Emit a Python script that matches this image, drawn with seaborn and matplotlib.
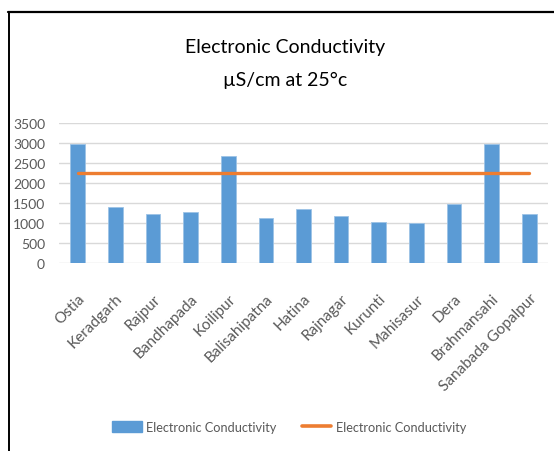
import matplotlib
matplotlib.use("Agg")
import matplotlib.pyplot as plt
import seaborn as sns
import pandas as pd
from matplotlib.patches import Patch
from matplotlib.lines import Line2D

categories = ["Ostia", "Keradgarh", "Rajpur", "Bandhapada", "Koilipur",
              "Balisahipatna", "Hatina", "Rajnagar", "Kurunti", "Mahisasur",
              "Dera", "Brahmansahi", "Sanabada Gopalpur"]
bar_values = [2980, 1410, 1240, 1290, 2680, 1140, 1370, 1190, 1040, 1020,
              1490, 2990, 1240]
line_values = [2260, 2260, 2260, 2260, 2260, 2260, 2260, 2260, 2260, 2260,
               2260, 2260, 2260]
series_name = "Electronic Conductivity"
title_lines = ["Electronic Conductivity", "\u00b5S/cm at 25\u00b0c"]
yticks = [0, 500, 1000, 1500, 2000, 2500, 3000, 3500]

sns.set_theme(style="white")
plt.rcParams["font.family"] = ["Lato", "DejaVu Sans"]

BLUE = "#5B9BD5"
ORANGE = "#ED7D31"
GREY = "#595959"

df = pd.DataFrame({"cat": categories, "bar": bar_values, "line": line_values})

fig = plt.figure(figsize=(5.54, 4.52), dpi=100)
ax = fig.add_axes([59 / 554, 1 - 264.3 / 452, (548 - 59) / 554, 140 / 452])

sns.barplot(data=df, x="cat", y="bar", color=BLUE, saturation=1, width=0.39,
            edgecolor="#9DC3E6", linewidth=0.6, ax=ax)
sns.lineplot(data=df, x="cat", y="line", color=ORANGE, linewidth=2.4,
             solid_capstyle="round", ax=ax, sort=False)

ax.set_xlim(-0.5, len(categories) - 0.5)
ax.set_ylim(0, 3500)
ax.set_yticks(yticks)
ax.set_yticklabels([str(v) for v in yticks], color=GREY, fontsize=10)
ax.yaxis.grid(True, color="#D9D9D9", linewidth=1)
ax.set_axisbelow(True)
for s in ax.spines.values():
    s.set_visible(False)
ax.tick_params(axis="y", length=0, pad=10)
ax.set_xlabel("")
ax.set_ylabel("")
ax.set_xticks(range(len(categories)))
ax.set_xticklabels(categories, rotation=45, ha="right", va="top",
                   rotation_mode="anchor", color=GREY, fontsize=11)
ax.tick_params(axis="x", length=0, pad=20)

fig.text(0.515, 1 - 47 / 452, title_lines[0], ha="center", va="center",
         fontsize=14, color="black")
fig.text(0.515, 1 - 80 / 452, title_lines[1], ha="center", va="center",
         fontsize=14, color="black")

handles = [Patch(facecolor=BLUE, edgecolor=BLUE),
           Line2D([0], [0], color=ORANGE, linewidth=2.6)]
fig.legend(handles, [series_name, series_name], loc="center",
           bbox_to_anchor=(0.522, 1 - 428 / 452), ncol=2, frameon=False,
           fontsize=9.2, labelcolor=GREY, handlelength=2.3, handleheight=0.9,
           handletextpad=0.35, columnspacing=2.0)

# chart frame (top and left edges)
fig.add_artist(Line2D([8 / 554, 1.0], [1 - 12.5 / 452, 1 - 12.5 / 452],
                      color="black", linewidth=1.6, transform=fig.transFigure))
fig.add_artist(Line2D([8.5 / 554, 8.5 / 554], [0, 1 - 12.5 / 452],
                      color="black", linewidth=1.4, transform=fig.transFigure))

fig.savefig("out.png", dpi=100)
